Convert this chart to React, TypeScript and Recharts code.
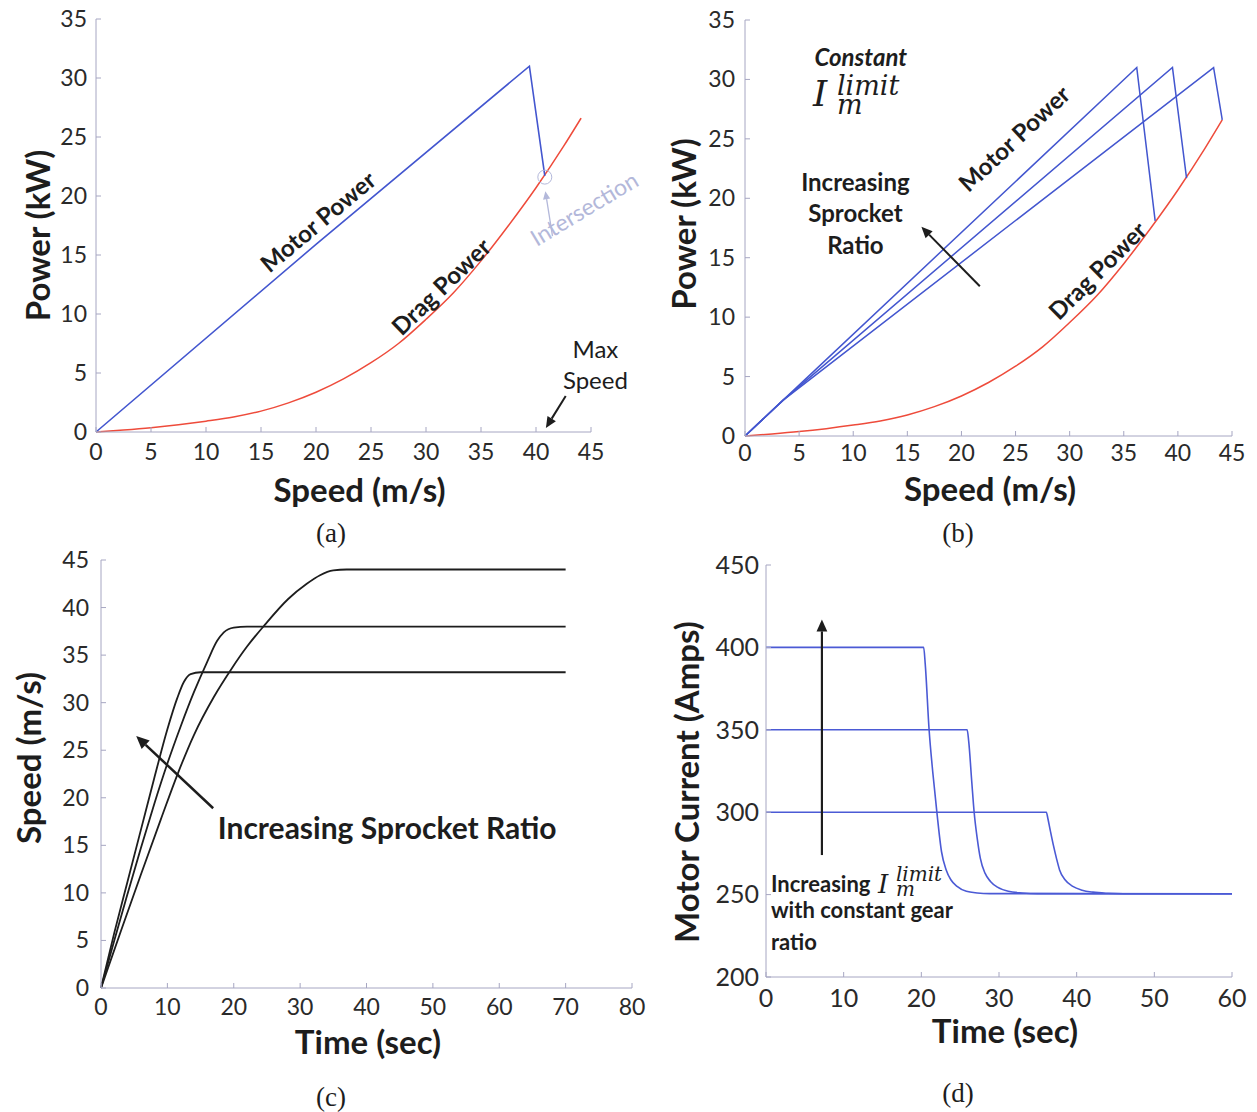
import { LineChart, Line, XAxis, YAxis, ReferenceLine, ReferenceDot } from 'recharts'

// ---------- values ----------

// (a), (b) aerodynamic drag power, kW vs speed m/s
const dragSpeed = [0, 2.5, 5, 7.5, 10, 12.5, 15, 17.5, 20, 22.5, 25, 27.5, 30, 32.5, 35, 37.5, 40, 42.5, 44.1]
const dragPower = [0, 0.17, 0.37, 0.62, 0.92, 1.27, 1.77, 2.47, 3.37, 4.5, 5.87, 7.5, 9.55, 11.8, 14.5, 17.5, 20.7, 24.2, 26.6]

// (a) motor power
const motorSpeedA = [0, 20, 39.4, 40.8]
const motorPowerA = [0, 15.9, 31, 21.7]

// (b) motor power, three sprocket ratios
const motorSpeedB1 = [0, 3.5, 36.2, 37.9]
const motorPowerB1 = [0, 3, 31, 18.1]
const motorSpeedB2 = [0, 3.5, 39.5, 40.8]
const motorPowerB2 = [0, 3, 31, 21.7]
const motorSpeedB3 = [0, 3.5, 43.3, 44.1]
const motorPowerB3 = [0, 3, 31, 26.6]

// (c) speed vs time, three sprocket ratios
const timeC1 = [0, 2, 4, 6, 8, 10, 11.5, 12.5, 13.5, 15, 70]
const speedC1 = [0, 5.8, 11.2, 16.6, 22, 27.2, 30.5, 32.2, 33, 33.2, 33.2]
const timeC2 = [0, 2, 4, 6, 8, 10, 12, 14, 16, 17.5, 18.5, 20, 22, 70]
const speedC2 = [0, 5, 9.9, 14.7, 19.3, 23.6, 27.5, 31.1, 34.3, 36.5, 37.4, 37.9, 38, 38]
const timeC3 = [0, 3, 6, 9, 11.6, 14, 17, 19.7, 22, 24.7, 28.2, 31, 33, 35, 37, 70]
const speedC3 = [0, 6, 11.9, 17.7, 22.6, 26.6, 30.6, 33.6, 35.9, 38.2, 40.9, 42.5, 43.4, 43.9, 44, 44]

// (d) motor current vs time, three current limits
const timeD1 = [0, 20.3, 20.5, 21.0, 21.5, 22.0, 22.6, 23.2, 23.8, 24.6, 25.8, 27.2, 28.8, 60]
const currentD1 = [400, 400, 390, 350, 323, 300, 276, 265, 259, 255, 252, 251, 250.6, 250.5]
const timeD2 = [0, 25.9, 26.1, 26.5, 26.8, 27.2, 27.6, 28.2, 28.9, 29.8, 31.2, 33, 35, 60]
const currentD2 = [350, 350, 343, 318, 300, 284, 272, 263, 258, 254.5, 252, 251, 250.6, 250.5]
const timeD3 = [0, 36.1, 36.3, 36.6, 37.0, 37.4, 37.8, 38.5, 39.5, 40.7, 42.1, 44, 46, 60]
const currentD3 = [300, 300, 296, 289, 280, 272, 265, 259, 255, 252.7, 251.5, 250.8, 250.5, 250.5]

// ticks
const speedTicks = [0, 5, 10, 15, 20, 25, 30, 35, 40, 45]
const powerTicks = [0, 5, 10, 15, 20, 25, 30, 35]
const timeTicksC = [0, 10, 20, 30, 40, 50, 60, 70, 80]
const speedTicksC = [0, 5, 10, 15, 20, 25, 30, 35, 40, 45]
const timeTicksD = [0, 10, 20, 30, 40, 50, 60]
const currentTicks = [200, 250, 300, 350, 400, 450]

// ---------- styling ----------
const FONT = 'Lato, "Open Sans", sans-serif'
const MATH = '"DejaVu Serif", serif'
const AXIS = '#a6a6c2'
const INK = '#1d1d1d'
const MOTOR = '#4356cf'
const DRAG = '#ee4b3b'
const CURRENT = '#4b5ad5'
const PALE = '#b3b8da'

const pts = (xs: number[], ys: number[]) => xs.map((x, i) => ({ x, y: ys[i] }))

const xTick = (gap: number, size: number) => (p: any) => {
  const ay = p.y - gap
  return (
    <g>
      <line x1={p.x} y1={ay} x2={p.x} y2={ay - 5} stroke={AXIS} />
      <text x={p.x} y={p.y + size * 0.35} textAnchor="middle" fontFamily={FONT} fontSize={size} fill="#2a2a2a">
        {p.payload.value}
      </text>
    </g>
  )
}

const yTick = (gap: number, size: number) => (p: any) => {
  const ax = p.x + gap
  return (
    <g>
      <line x1={ax} y1={p.y} x2={ax + 5} y2={p.y} stroke={AXIS} />
      <text x={p.x} y={p.y + size * 0.35} textAnchor="end" fontFamily={FONT} fontSize={size} fill="#2a2a2a">
        {p.payload.value}
      </text>
    </g>
  )
}

const xTitle = (text: string, dx: number, dy: number) => (p: any) => {
  const vb = p.viewBox
  return (
    <text x={vb.x + vb.width / 2 + dx} y={vb.y + dy + 11} textAnchor="middle" fontFamily={FONT} fontWeight={700} fontSize={33} fill={INK}>
      {text}
    </text>
  )
}

const yTitle = (text: string, x: number, dy: number) => (p: any) => {
  const vb = p.viewBox
  const cy = vb.y + vb.height / 2 + dy
  return (
    <text x={x} y={cy} transform={`rotate(-90 ${x} ${cy})`} dy={11} textAnchor="middle" fontFamily={FONT} fontWeight={700} fontSize={33} fill={INK}>
      {text}
    </text>
  )
}

type NoteOpts = { size: number; weight?: number; italic?: boolean; color?: string; angle?: number; anchor?: 'start' | 'middle' | 'end'; lh?: number }

const note = (lines: string[], o: NoteOpts) => (p: any) => {
  const { cx, cy } = p
  const lh = o.lh ?? o.size * 1.3
  const top = cy - ((lines.length - 1) * lh) / 2 + o.size * 0.35
  return (
    <text
      transform={o.angle ? `rotate(${o.angle} ${cx} ${cy})` : undefined}
      textAnchor={o.anchor ?? 'middle'}
      fontFamily={FONT}
      fontSize={o.size}
      fontWeight={o.weight ?? 400}
      fontStyle={o.italic ? 'italic' : 'normal'}
      fill={o.color ?? INK}
    >
      {lines.map((l, i) => (
        <tspan key={i} x={cx} y={top + i * lh}>
          {l}
        </tspan>
      ))}
    </text>
  )
}

const arrow = (color: string, w: number, head: number) => (p: any) => {
  const { x1, y1, x2, y2 } = p
  const a = Math.atan2(y2 - y1, x2 - x1)
  const bx = x2 - head * Math.cos(a)
  const by = y2 - head * Math.sin(a)
  const hw = head * 0.45
  const px = -Math.sin(a) * hw
  const py = Math.cos(a) * hw
  return (
    <g>
      <line x1={x1} y1={y1} x2={bx} y2={by} stroke={color} strokeWidth={w} />
      <polygon points={`${x2},${y2} ${bx + px},${by + py} ${bx - px},${by - py}`} fill={color} />
    </g>
  )
}

// I_m^limit for panel (b)
const limitSymbol = (p: any) => {
  const { cx, cy } = p
  return (
    <text fontFamily={MATH} fontStyle="italic" fill={INK}>
      <tspan x={cx - 45} y={cy + 11} fontSize={36}>I</tspan>
      <tspan x={cx - 21} y={cy} fontSize={27}>limit</tspan>
      <tspan x={cx - 21} y={cy + 19} fontSize={27}>m</tspan>
    </text>
  )
}

// three-line note for panel (d)
const currentNote = (p: any) => {
  const { cx, cy } = p
  return (
    <g>
      <text fontFamily={FONT} fontWeight={700} fontSize={22} fill={INK}>
        <tspan x={cx} y={cy + 7}>Increasing</tspan>
        <tspan x={cx} y={cy + 33}>with constant gear</tspan>
        <tspan x={cx} y={cy + 65}>ratio</tspan>
      </text>
      <text fontFamily={MATH} fontStyle="italic" fill={INK}>
        <tspan x={cx + 107} y={cy + 8} fontSize={26}>I</tspan>
        <tspan x={cx + 125} y={cy - 4} fontSize={20}>limit</tspan>
        <tspan x={cx + 125} y={cy + 11} fontSize={20}>m</tspan>
      </text>
    </g>
  )
}

const axisBase = {
  type: 'number' as const,
  axisLine: { stroke: AXIS },
  tickLine: false,
  tickSize: 0,
  interval: 0 as const,
  allowDecimals: false,
}

const caption = (text: string, left: number, top: number) => (
  <div
    style={{
      position: 'absolute',
      left: left - 40,
      top: top - 16,
      width: 80,
      textAlign: 'center',
      fontFamily: '"Liberation Serif", serif',
      fontSize: 27,
      lineHeight: '32px',
      color: INK,
    }}
  >
    {text}
  </div>
)

export default function App() {
  return (
    <div style={{ position: 'absolute', left: 0, top: 0, width: 1257, height: 1112, background: '#fff' }}>
      {/* (a) */}
      <div style={{ position: 'absolute', left: 0, top: 0 }}>
        <LineChart width={665} height={520} margin={{ top: 19, right: 74, bottom: 0, left: 0 }}>
          <XAxis {...axisBase} dataKey="x" domain={[0, 45]} ticks={speedTicks} height={88} tickMargin={20} tick={xTick(20, 23)} label={xTitle('Speed (m/s)', 16, 59)} />
          <YAxis {...axisBase} dataKey="y" domain={[0, 35]} ticks={powerTicks} width={96} tickMargin={9} tick={yTick(9, 23)} label={yTitle('Power (kW)', 39, 10)} />
          <Line data={pts(dragSpeed, dragPower)} dataKey="y" type="monotone" stroke={DRAG} strokeWidth={1.5} dot={false} isAnimationActive={false} />
          <Line data={pts(motorSpeedA, motorPowerA)} dataKey="y" type="linear" stroke={MOTOR} strokeWidth={1.6} dot={false} isAnimationActive={false} />
          <ReferenceDot x={20.2} y={17.8} r={0} ifOverflow="visible" shape={note(['Motor Power'], { size: 24, weight: 700, angle: -40 })} />
          <ReferenceDot x={31.4} y={12.3} r={0} ifOverflow="visible" shape={note(['Drag Power'], { size: 24, weight: 700, angle: -44 })} />
          <ReferenceDot x={44.4} y={18.9} r={0} ifOverflow="visible" shape={note(['Intersection'], { size: 23, color: PALE, angle: -31 })} />
          <ReferenceDot x={40.8} y={21.6} r={7} fill="none" stroke={PALE} ifOverflow="visible" />
          <ReferenceLine segment={[{ x: 41.5, y: 16.6 }, { x: 40.85, y: 20.4 }]} ifOverflow="visible" shape={arrow(PALE, 1.3, 8)} />
          <ReferenceDot x={45.4} y={5.64} r={0} ifOverflow="visible" shape={note(['Max', 'Speed'], { size: 24, lh: 31 })} />
          <ReferenceLine segment={[{ x: 42.7, y: 3.05 }, { x: 40.9, y: 0.34 }]} ifOverflow="visible" shape={arrow(INK, 2, 11)} />
        </LineChart>
      </div>

      {/* (b) */}
      <div style={{ position: 'absolute', left: 640, top: 0 }}>
        <LineChart width={617} height={520} margin={{ top: 20, right: 25, bottom: 0, left: 0 }}>
          <XAxis {...axisBase} dataKey="x" domain={[0, 45]} ticks={speedTicks} height={84} tickMargin={17} tick={xTick(17, 23)} label={xTitle('Speed (m/s)', 1.5, 54)} />
          <YAxis {...axisBase} dataKey="y" domain={[0, 35]} ticks={powerTicks} width={105} tickMargin={10} tick={yTick(10, 23)} label={yTitle('Power (kW)', 45, -4)} />
          <Line data={pts(dragSpeed, dragPower)} dataKey="y" type="monotone" stroke={DRAG} strokeWidth={1.5} dot={false} isAnimationActive={false} />
          <Line data={pts(motorSpeedB1, motorPowerB1)} dataKey="y" type="linear" stroke={MOTOR} strokeWidth={1.5} dot={false} isAnimationActive={false} />
          <Line data={pts(motorSpeedB2, motorPowerB2)} dataKey="y" type="linear" stroke={MOTOR} strokeWidth={1.5} dot={false} isAnimationActive={false} />
          <Line data={pts(motorSpeedB3, motorPowerB3)} dataKey="y" type="linear" stroke={MOTOR} strokeWidth={1.5} dot={false} isAnimationActive={false} />
          <ReferenceDot x={10.7} y={31.8} r={0} ifOverflow="visible" shape={note(['Constant'], { size: 24, weight: 700, italic: true })} />
          <ReferenceDot x={10.44} y={28.66} r={0} ifOverflow="visible" shape={limitSymbol} />
          <ReferenceDot x={10.2} y={18.7} r={0} ifOverflow="visible" shape={note(['Increasing', 'Sprocket', 'Ratio'], { size: 24, weight: 700, lh: 31.5 })} />
          <ReferenceLine segment={[{ x: 21.7, y: 12.6 }, { x: 16.3, y: 17.6 }]} ifOverflow="visible" shape={arrow(INK, 2, 11)} />
          <ReferenceDot x={24.9} y={25.0} r={0} ifOverflow="visible" shape={note(['Motor Power'], { size: 24, weight: 700, angle: -43 })} />
          <ReferenceDot x={32.6} y={13.9} r={0} ifOverflow="visible" shape={note(['Drag Power'], { size: 24, weight: 700, angle: -45 })} />
        </LineChart>
      </div>

      {/* (c) */}
      <div style={{ position: 'absolute', left: 0, top: 540 }}>
        <LineChart width={650} height={572} margin={{ top: 20, right: 18, bottom: 0, left: 0 }}>
          <XAxis {...axisBase} dataKey="x" domain={[0, 80]} ticks={timeTicksC} height={124} tickMargin={19} tick={xTick(19, 23)} label={xTitle('Time (sec)', 1.5, 55)} />
          <YAxis {...axisBase} dataKey="y" domain={[0, 45]} ticks={speedTicksC} width={101} tickMargin={12} tick={yTick(12, 23)} label={yTitle('Speed (m/s)', 30, -16)} />
          <Line data={pts(timeC1, speedC1)} dataKey="y" type="monotone" stroke={INK} strokeWidth={1.8} dot={false} isAnimationActive={false} />
          <Line data={pts(timeC2, speedC2)} dataKey="y" type="monotone" stroke={INK} strokeWidth={1.8} dot={false} isAnimationActive={false} />
          <Line data={pts(timeC3, speedC3)} dataKey="y" type="monotone" stroke={INK} strokeWidth={1.8} dot={false} isAnimationActive={false} />
          <ReferenceLine segment={[{ x: 16.9, y: 18.9 }, { x: 5.3, y: 26.5 }]} ifOverflow="visible" shape={arrow(INK, 2.5, 13)} />
          <ReferenceDot x={17.6} y={16.8} r={0} ifOverflow="visible" shape={note(['Increasing Sprocket Ratio'], { size: 30, weight: 700, anchor: 'start' })} />
        </LineChart>
      </div>

      {/* (d) */}
      <div style={{ position: 'absolute', left: 650, top: 540 }}>
        <LineChart width={607} height={572} margin={{ top: 25, right: 25, bottom: 0, left: 0 }}>
          <XAxis {...axisBase} dataKey="x" domain={[0, 60]} ticks={timeTicksD} height={135} tickMargin={21} tick={xTick(21, 25)} label={xTitle('Time (sec)', 6, 55)} />
          <YAxis {...axisBase} dataKey="y" domain={[200, 450]} ticks={currentTicks} width={116} tickMargin={7} tick={yTick(7, 25)} label={yTitle('Motor Current (Amps)', 38, 11)} />
          <Line data={pts(timeD1, currentD1)} dataKey="y" type="monotone" stroke={CURRENT} strokeWidth={1.6} dot={false} isAnimationActive={false} />
          <Line data={pts(timeD2, currentD2)} dataKey="y" type="monotone" stroke={CURRENT} strokeWidth={1.6} dot={false} isAnimationActive={false} />
          <Line data={pts(timeD3, currentD3)} dataKey="y" type="monotone" stroke={CURRENT} strokeWidth={1.6} dot={false} isAnimationActive={false} />
          <ReferenceLine segment={[{ x: 7.2, y: 274 }, { x: 7.2, y: 417 }]} ifOverflow="visible" shape={arrow(INK, 2.2, 12)} />
          <ReferenceDot x={0.64} y={255.8} r={0} ifOverflow="visible" shape={currentNote} />
        </LineChart>
      </div>

      {caption('(a)', 331, 533)}
      {caption('(b)', 958, 533)}
      {caption('(c)', 331, 1097)}
      {caption('(d)', 958, 1093)}
    </div>
  )
}
